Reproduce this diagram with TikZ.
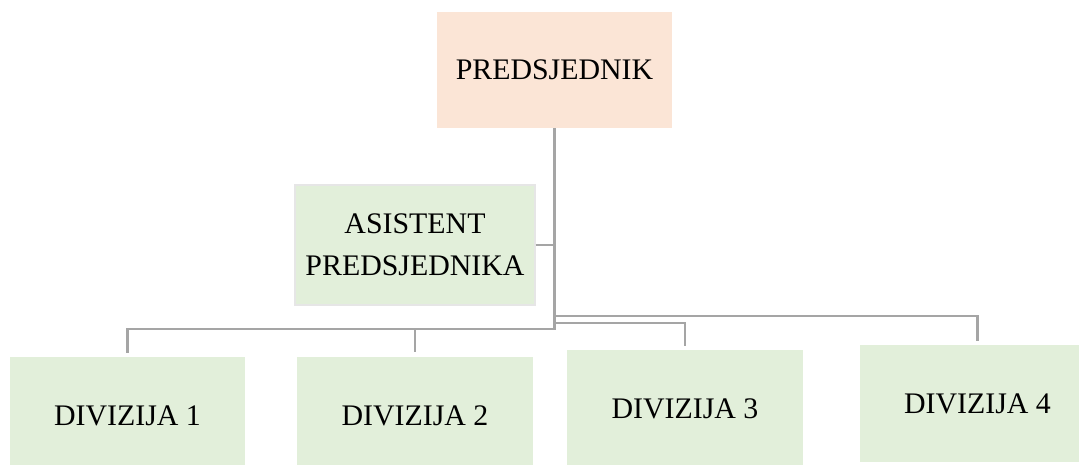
\documentclass[tikz,border=0pt]{standalone}
\usepackage{fontspec}
\setmainfont{Liberation Serif}
\usetikzlibrary{positioning}
\definecolor{predfill}{HTML}{FBE5D6}
\definecolor{divfill}{HTML}{E2EFDA}
\definecolor{linegray}{HTML}{A5A5A5}
\definecolor{edgegray}{HTML}{E6E6E6}

\begin{document}
\begin{tikzpicture}[
        x=0.02cm, y=-0.02cm,
        every node/.style={font=\fontsize{17}{24}\selectfont, align=center, inner sep=0pt},
        chief/.style={rectangle, fill=predfill, minimum width=4.7cm, minimum height=2.32cm},
        helper/.style={rectangle, fill=divfill, draw=edgegray, line width=0.8pt, minimum width=4.8cm, minimum height=2.4cm},
        division/.style={rectangle, fill=divfill, minimum width=4.72cm, minimum height=2.36cm},
        conn/.style={draw=linegray, line width=1.4pt}
    ]
    \useasboundingbox (0,0) rectangle (1079,465);

    % President
    \node[chief] at (554.5,70) (pred) {PREDSJEDNIK};

    % Assistant
    \node[helper] at (415,245) (asist) {ASISTENT\\PREDSJEDNIKA};

    % Divisions
    \node[division] at (127.5,416) (div1) {DIVIZIJA 1};
    \node[division] at (415,416) (div2) {DIVIZIJA 2};
    \node[division] at (685,409) (div3) {DIVIZIJA 3};
    \node[division] at (977.5,403.5) (div4) {DIVIZIJA 4};

    % Junctions on the trunk
    \coordinate (jleft) at (554.5,329);
    \coordinate (jfar) at (554.5,316);
    \coordinate (jnear) at (554.5,323);

    % Lines
    \draw[conn] (pred.south) -- (jleft) -| ([yshift=0.08cm]div1.north);
    \draw[conn] (jleft -| div2.north) -- ([yshift=0.1cm]div2.north);
    \draw[conn] (asist.east) -- (asist.east -| pred.south);
    \draw[conn] (jnear) -| ([yshift=0.08cm]div3.north);
    \draw[conn] (jfar) -| ([yshift=0.06cm]div4.north);

\end{tikzpicture}
\end{document}
